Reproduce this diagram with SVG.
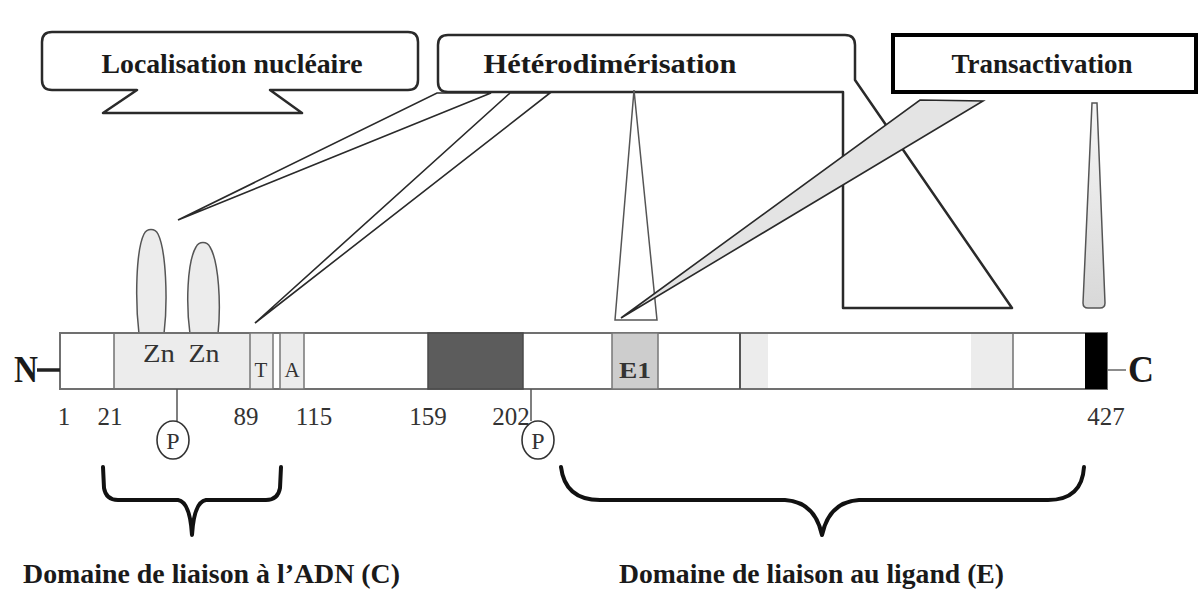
<svg xmlns="http://www.w3.org/2000/svg" width="1200" height="596" viewBox="0 0 1200 596">
<defs>
<linearGradient id="wedgeGrad" x1="0" y1="0" x2="0" y2="1">
<stop offset="0" stop-color="#f6f6f6"/>
<stop offset="1" stop-color="#d8d8d8"/>
</linearGradient>
<style>
.lbl{font-family:"Liberation Serif","Times New Roman",serif;font-weight:bold;fill:#1a1a1a;}
.top{font-size:28px;text-anchor:middle;}
.bot{font-size:28px;}
.num{font-family:"Liberation Serif","Times New Roman",serif;font-size:25px;fill:#333;text-anchor:middle;}
.inl{font-family:"Liberation Serif","Times New Roman",serif;fill:#333;text-anchor:middle;}
.box{fill:#fff;stroke:#2a2a2a;stroke-width:2.5;stroke-linejoin:round;}
.wedge{fill:#fff;stroke:#2a2a2a;stroke-width:1.6;}
.seg{stroke:#707070;stroke-width:1.5;}
.lite{fill:#ececec;}
.finger{fill:#ececec;stroke:#555;stroke-width:1.5;}
.brace{fill:none;stroke:#111;stroke-width:4;stroke-linecap:round;stroke-linejoin:round;}
.stem{stroke:#555;stroke-width:1.5;}
.pcirc{fill:#fff;stroke:#333;stroke-width:1.6;}
</style>
</defs>
<rect width="1200" height="596" fill="#fff"/>

<g id="callout-localisation">
<path class="box" d="M52,32 L408,32 Q418,32 418,42 L418,80 Q418,90 408,90 L270,90 L302,113 L103,113 L137,90 L52,90 Q42,90 42,80 L42,42 Q42,32 52,32 Z"/>
<text class="lbl top" x="232" y="73" textLength="261" lengthAdjust="spacingAndGlyphs">Localisation nucléaire</text>
</g>

<g id="callout-heterodimerisation">
<path class="box" d="M448,35 L845,35 Q855,35 855,45 L855,80 L1012,308 L843,308 L843,92 L448,92 Q438,92 438,82 L438,45 Q438,35 448,35 Z"/>
<text class="lbl top" x="610" y="73" textLength="253" lengthAdjust="spacingAndGlyphs">Hétérodimérisation</text>
</g>

<g id="callout-transactivation">
<rect x="893" y="35" width="303" height="57" fill="#fff" stroke="#000" stroke-width="4"/>
<text class="lbl top" x="1042" y="73" textLength="181" lengthAdjust="spacingAndGlyphs">Transactivation</text>
</g>

<g id="connectors">
<polygon class="wedge" points="437,93 491,93 178,220"/>
<polygon class="wedge" points="510,93 550,93 255,323"/>
<polygon fill="#fff" stroke="#555" stroke-width="1.5" points="634,90 657,320 615,320"/>
<polygon fill="#e4e4e4" stroke="#2a2a2a" stroke-width="1.6" points="920,100 983,101 621,318"/>
<path d="M1092,103 L1097,103 L1105,303 Q1105,308 1100,308 L1088,308 Q1083,308 1083,303 Z" fill="url(#wedgeGrad)" stroke="#555" stroke-width="1.5"/>
</g>

<g id="zinc-fingers">
<path class="finger" d="M139,334 C135,300 136,250 144,234 C147,228 155,228 158,234 C166,250 168,300 164,334 Z"/>
<path class="finger" d="M190,334 C186,305 187,262 196,247 C199,241 207,241 210,247 C219,262 221,305 218,334 Z"/>
</g>

<g id="protein">
<rect x="60" y="333" width="1047" height="56" fill="#fff" stroke="#707070" stroke-width="2"/>
<rect class="lite" x="114" y="334" width="136" height="54"/>
<line class="seg" x1="114" y1="333" x2="114" y2="389" stroke="#555"/>
<rect x="250" y="333" width="23" height="56" fill="#ececec" stroke="#777" stroke-width="1.5"/>
<rect x="280" y="333" width="24" height="56" fill="#ececec" stroke="#777" stroke-width="1.5"/>
<rect x="428" y="333" width="95" height="56" fill="#5c5c5c" stroke="#4a4a4a" stroke-width="1.5"/>
<rect x="612" y="333" width="46" height="56" fill="#cdcdcd" stroke="#777" stroke-width="1.5"/>
<rect class="lite" x="741" y="334" width="27" height="54"/>
<rect class="lite" x="971" y="334" width="42" height="54"/>
<line x1="740" y1="333" x2="740" y2="389" stroke="#555" stroke-width="2"/>
<line class="seg" x1="1013" y1="333" x2="1013" y2="389"/>
<rect x="1085" y="333" width="22" height="56" fill="#000"/>
<text class="inl" x="159" y="362" font-size="26" textLength="32" lengthAdjust="spacingAndGlyphs">Zn</text>
<text class="inl" x="204" y="362" font-size="26" textLength="31" lengthAdjust="spacingAndGlyphs">Zn</text>
<text class="inl" x="261" y="377" font-size="21">T</text>
<text class="inl" x="292" y="377" font-size="21">A</text>
<text class="inl" x="635" y="378" font-size="24" font-weight="bold" textLength="32" lengthAdjust="spacingAndGlyphs">E1</text>
</g>

<g id="n-terminus">
<line x1="37" y1="370" x2="60" y2="370" stroke="#222" stroke-width="3.5"/>
<text class="lbl" x="14" y="382" font-size="38" textLength="24" lengthAdjust="spacingAndGlyphs">N</text>
</g>

<g id="c-terminus">
<line x1="1107" y1="370" x2="1126" y2="370" stroke="#666" stroke-width="1.5"/>
<text class="lbl" x="1128" y="382" font-size="38" textLength="26" lengthAdjust="spacingAndGlyphs">C</text>
</g>

<g id="positions">
<text class="num" x="64" y="425">1</text>
<text class="num" x="110" y="425">21</text>
<text class="num" x="246" y="425">89</text>
<text class="num" x="314" y="425">115</text>
<text class="num" x="428" y="425">159</text>
<text class="num" x="511" y="425">202</text>
<text class="num" x="1106" y="425">427</text>
</g>

<g id="phospho-1">
<line class="stem" x1="177" y1="389" x2="177" y2="421"/>
<ellipse class="pcirc" cx="173" cy="440" rx="16" ry="19"/>
<text class="inl" x="173" y="449" font-size="24" fill="#222">P</text>
</g>

<g id="phospho-2">
<line class="stem" x1="531" y1="389" x2="531" y2="421"/>
<ellipse class="pcirc" cx="538" cy="440" rx="16" ry="19"/>
<text class="inl" x="538" y="449" font-size="24" fill="#222">P</text>
</g>

<g id="domain-c">
<path class="brace" d="M103,467 L104,488 Q106,500 118,500 L178,500 Q190,502 192,535 Q194,502 206,500 L266,500 Q278,500 280,488 L281,467"/>
<text class="lbl bot" x="23" y="583" textLength="377" lengthAdjust="spacingAndGlyphs">Domaine de liaison à l’ADN (C)</text>
</g>

<g id="domain-e">
<path class="brace" d="M561,467 Q565,500 600,500 L785,500 Q815,502 822,535 Q829,502 859,500 L1048,500 Q1082,500 1084,467"/>
<text class="lbl bot" x="619" y="583" textLength="385" lengthAdjust="spacingAndGlyphs">Domaine de liaison au ligand (E)</text>
</g>
</svg>
